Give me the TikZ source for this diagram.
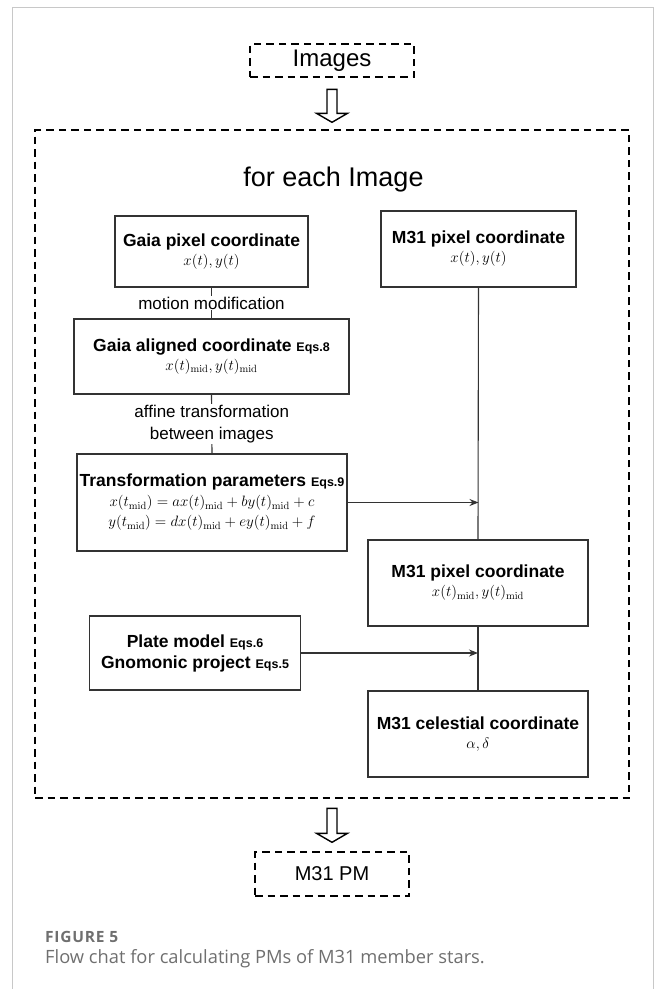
\RequirePackage{fix-cm}
\documentclass[tikz,border=0pt]{standalone}
\usepackage[no-math]{fontspec}
\setmainfont{Liberation Sans}
\newfontfamily\capfont{Open Sans}
\newfontfamily\capfontwide[LetterSpace=5]{Open Sans}
\usetikzlibrary{arrows.meta}
\definecolor{boxline}{HTML}{333333}
\definecolor{framegray}{HTML}{C8C8C8}
\definecolor{capgray}{HTML}{6F6F6F}
\newcommand\mytitle{\bfseries\fontsize{17.5}{19}\selectfont}
\newcommand\myeqs[1]{{\fontsize{12.5}{14}\selectfont #1}}
\tikzset{
  dbox/.style={draw=black, line width=2.6pt, dash pattern=on 7.5pt off 5pt, inner sep=0pt},
  flowbox/.style={draw=boxline, line width=1.2pt, inner sep=0pt, align=center, font=\fontsize{15}{19}\selectfont},
  link/.style={draw=boxline, line width=1.1pt},
  arr/.style={link, -{Stealth[length=9pt,width=7pt]}},
  lab/.style={fill=white, inner sep=1pt, align=center, font=\fontsize{17}{22}\selectfont},
  hollow/.style={draw=black, line width=1.4pt, fill=white, line join=miter},
}
\begin{document}
\begin{tikzpicture}[x=1pt,y=-1pt]
\useasboundingbox (0,0) rectangle (654,989);
% light frame
\draw[framegray, line width=1pt] (12,989) -- (12,7) -- (653,7) -- (653,989);

% input / output
\node[dbox, minimum width=164, minimum height=33, font=\fontsize{24}{28}\selectfont] (images) at (332,60.5) {Images};
\node[dbox, minimum width=594, minimum height=668] (loop) at (332,464) {};
\node[dbox, minimum width=154, minimum height=44, font=\fontsize{20}{24}\selectfont] (pm31) at (332,874) {M31 PM};

% hollow arrows
\path (images.south) ++(0,11) coordinate (a1);
\draw[hollow] (a1) ++(-5,0) -- ++(0,24) -- ++(-10.5,0) -- ++(15.5,9) -- ++(15.5,-9) -- ++(-10.5,0) -- ++(0,-24) -- cycle;
\path (loop.south) ++(0,9) coordinate (a2);
\draw[hollow] (a2) ++(-5,0) -- ++(0,25) -- ++(-10.5,0) -- ++(15.5,9) -- ++(15.5,-9) -- ++(-10.5,0) -- ++(0,-25) -- cycle;

\node[anchor=base, font=\fontsize{27}{32}\selectfont, inner sep=0pt] (loopttl) at (333.5,186) {for each Image};

% left column
\node[flowbox, minimum width=193, minimum height=71] (gp) at (211.5,251.5)
  {{\mytitle Gaia pixel coordinate}\\ $x(t),y(t)$};
\node[flowbox, minimum width=275, minimum height=75] (ga) at (211.5,356.5)
  {{\mytitle Gaia aligned coordinate \myeqs{Eqs.8}}\\ $x(t)_{\mathrm{mid}},y(t)_{\mathrm{mid}}$};
\node[flowbox, minimum width=270, minimum height=97, font=\fontsize{15}{20}\selectfont] (tp) at (212,502.5)
  {{\mytitle Transformation parameters \myeqs{Eqs.9}}\\
   $x(t_{\mathrm{mid}})=ax(t)_{\mathrm{mid}}+by(t)_{\mathrm{mid}}+c$\\
   $y(t_{\mathrm{mid}})=dx(t)_{\mathrm{mid}}+ey(t)_{\mathrm{mid}}+f$};
\node[flowbox, minimum width=211, minimum height=74, font=\bfseries\fontsize{17.5}{21}\selectfont] (plate) at (195,653)
  {Plate model \myeqs{Eqs.6}\\ Gnomonic project \myeqs{Eqs.5}};

% right column
\node[flowbox, minimum width=195, minimum height=76] (m1) at (478.5,249)
  {{\mytitle M31 pixel coordinate}\\ $x(t),y(t)$};
\node[flowbox, minimum width=220, minimum height=86] (m2) at (478,583)
  {{\mytitle M31 pixel coordinate}\\ $x(t)_{\mathrm{mid}},y(t)_{\mathrm{mid}}$};
\node[flowbox, minimum width=220, minimum height=86] (mc) at (478,734)
  {{\mytitle M31 celestial coordinate}\\ $\alpha,\delta$};

% connectors
\draw[link] (gp.south) -- node[lab] (lmot) {motion modification} (ga.north);
\draw[link] (ga.south) -- node[lab] (laff) {affine transformation\\between images} (tp.north);
\draw[link] (m1.south) -- (m2.north);
\draw[link] (m2.south) -- (mc.north);
\draw[arr] (tp.east) -- (tp.east -| m1.south);
\draw[arr] (plate.east) -- (plate.east -| m2.north);

% caption
\node[anchor=base west, inner sep=0pt, text=capgray, font=\capfontwide\bfseries\fontsize{15.5}{18}\selectfont] (fig) at (45,942) {FIGURE 5};
\node[anchor=base west, inner sep=0pt, text=capgray, font=\capfont\fontsize{18.3}{22}\selectfont] (cap) at (45,963) {Flow chat for calculating PMs of M31 member stars.};
\end{tikzpicture}
\end{document}
